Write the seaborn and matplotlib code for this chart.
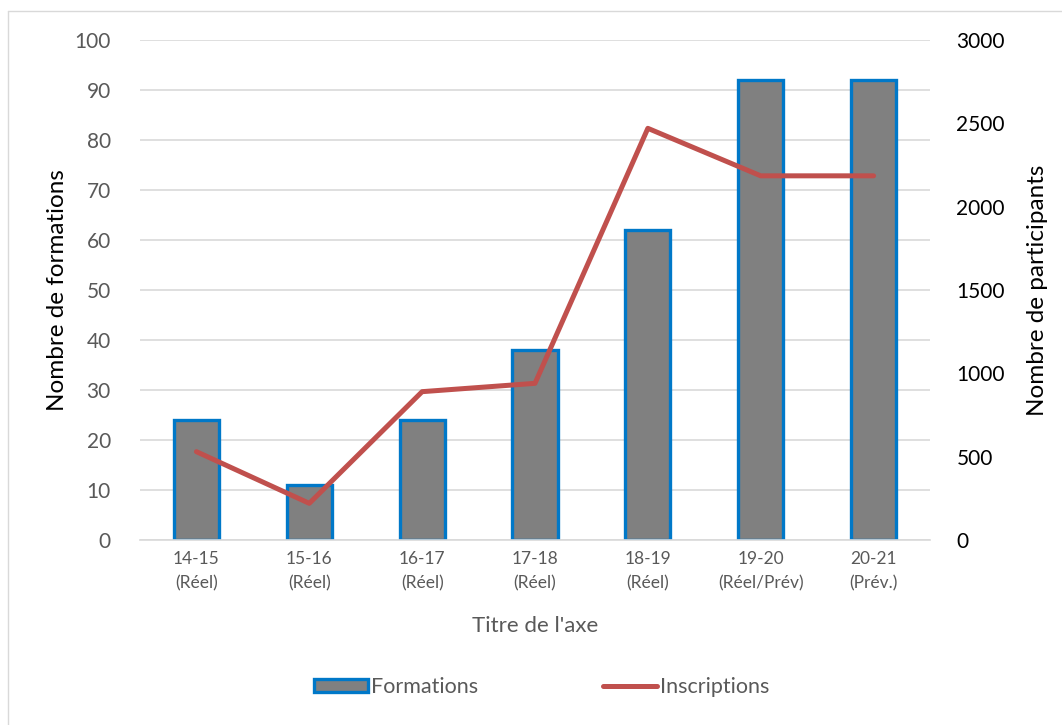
import numpy as np
import pandas as pd
import matplotlib
matplotlib.use("Agg")
import matplotlib.pyplot as plt
from matplotlib.patches import Patch
from matplotlib.lines import Line2D
import seaborn as sns

# data
periodes = ['14-15\n(Réel)', '15-16\n(Réel)', '16-17\n(Réel)', '17-18\n(Réel)',
            '18-19\n(Réel)', '19-20\n(Réel/Prév)', '20-21\n(Prév.)']
formations = [24, 11, 24, 38, 62, 92, 92]
inscriptions = [530, 220, 890, 940, 2470, 2185, 2185]

sns.set_theme(style="white")
plt.rcParams['font.family'] = ['Lato', 'DejaVu Sans']

df = pd.DataFrame({'periode': periodes, 'formations': formations,
                   'inscriptions': inscriptions})

fig = plt.figure(figsize=(10.62, 7.25), dpi=100)
ax = fig.add_axes([140 / 1062, 1 - 540 / 725, 790 / 1062, 500 / 725])

sns.barplot(data=df, x='periode', y='formations', ax=ax, color='#808080',
            edgecolor='#0078C8', linewidth=2.4, width=0.4, saturation=1,
            zorder=2)
ax.set_ylim(0, 100)
ax.set_yticks(np.arange(0, 101, 10))
ax.set_xlim(-0.5, len(periodes) - 0.5)
ax.set_xticks(range(len(periodes)))
ax.set_xticklabels(periodes, linespacing=1.6)
ax.grid(axis='y', color='#d9d9d9', linewidth=1.2, zorder=0)
ax.set_axisbelow(True)
for s in ['top', 'right', 'left']:
    ax.spines[s].set_visible(False)
ax.spines['bottom'].set_color('#d9d9d9')
ax.spines['bottom'].set_linewidth(1.2)
ax.tick_params(axis='y', length=0, pad=21, labelsize=15, labelcolor='#595959')
ax.tick_params(axis='x', length=0, pad=8, labelsize=12.5, labelcolor='#595959')
ax.set_xlabel("Titre de l'axe", fontsize=16, color='#595959', labelpad=18)
ax.set_ylabel("Nombre de formations", fontsize=17.5, color='black', labelpad=5)

ax2 = ax.twinx()
sns.lineplot(data=df, x='periode', y='inscriptions', ax=ax2, color='#C0504D',
             linewidth=3.6, solid_capstyle='round', sort=False)
ax2.set_ylim(0, 3000)
ax2.set_yticks(np.arange(0, 3001, 500))
for s in ['top', 'right', 'left', 'bottom']:
    ax2.spines[s].set_visible(False)
ax2.tick_params(axis='y', length=0, pad=19, labelsize=15, labelcolor='black')
ax2.set_ylabel("Nombre de participants", fontsize=17.5, color='black', labelpad=16)

handles = [Patch(facecolor='#808080', edgecolor='#0078C8', linewidth=2.4),
           Line2D([0], [0], color='#C0504D', linewidth=3.6, solid_capstyle='round')]
fig.legend(handles, ['Formations', 'Inscriptions'], loc='center',
           bbox_to_anchor=(0.51, 1 - 687 / 725), ncol=2, frameon=False,
           fontsize=15.5, labelcolor='#595959', columnspacing=5.8,
           handlelength=2.5, handleheight=0.6, handletextpad=0.15)

# light chart frame
fig.add_artist(Line2D([8 / 1062, 8 / 1062], [0, 1 - 11 / 725], color='#d9d9d9',
                      linewidth=1, transform=fig.transFigure))
fig.add_artist(Line2D([8 / 1062, 1], [1 - 11 / 725, 1 - 11 / 725], color='#d9d9d9',
                      linewidth=1, transform=fig.transFigure))

fig.savefig('out.png', dpi=100)
